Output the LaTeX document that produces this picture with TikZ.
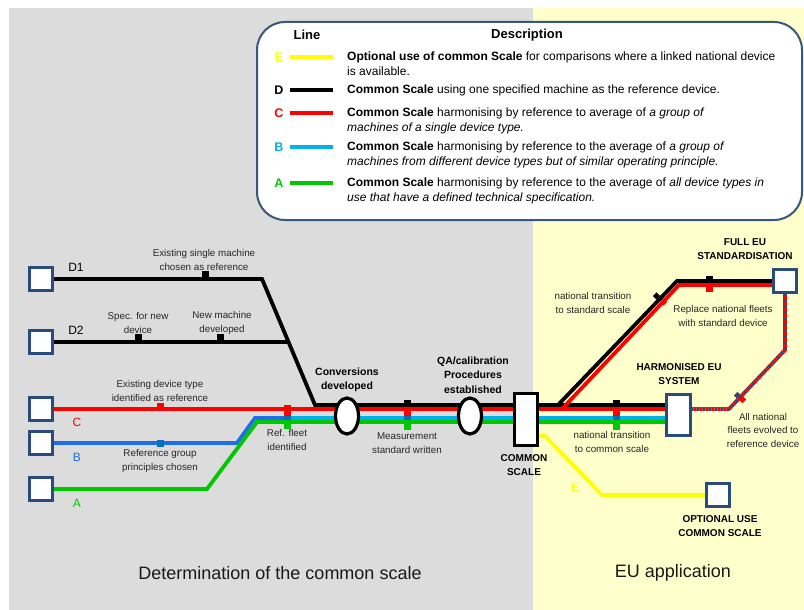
\documentclass[tikz,border=0pt]{standalone}
\usepackage{fontspec}
\setmainfont{Liberation Sans}
\usetikzlibrary{shapes.geometric,calc}
\definecolor{bggray}{RGB}{220,220,220}
\definecolor{bgyellow}{RGB}{255,255,204}
\definecolor{boxblue}{RGB}{41,75,125}
\definecolor{framecol}{RGB}{56,87,125}
\definecolor{lineE}{RGB}{255,255,0}
\definecolor{lineC}{RGB}{255,0,0}
\definecolor{lineB}{RGB}{0,176,240}
\definecolor{lineBl}{RGB}{30,110,235}
\definecolor{tickB}{RGB}{0,112,192}
\definecolor{lineA}{RGB}{0,200,0}
\pgfdeclarelayer{bg}
\pgfdeclarelayer{tracks}
\pgfsetlayers{bg,tracks,main}
\tikzset{
	stn/.style={draw=boxblue, fill=white, line width=3.2pt, minimum size=23pt, inner sep=0pt},
	oval/.style={ellipse, draw, fill=white, line width=3.2pt, minimum width=23pt, minimum height=36pt, inner sep=0pt},
	rail/.style={line width=3.8pt},
	lbl/.style={align=center, font=\fontsize{9.8}{13.5}\selectfont, text=black!85, inner sep=0pt},
	blbl/.style={align=center, font=\bfseries\fontsize{10.5}{14.5}\selectfont, inner sep=0pt},
	caps/.style={align=center, font=\bfseries\fontsize{10}{14.5}\selectfont, inner sep=0pt},
	desc/.style={anchor=west, align=left, font=\fontsize{12}{14.8}\selectfont, inner sep=0pt},
	key/.style={font=\bfseries\fontsize{12.5}{14}\selectfont, inner sep=0pt},
	tag/.style={font=\fontsize{12}{14}\selectfont, inner sep=0pt},
	title/.style={font=\fontsize{18}{20}\selectfont, text=black!90, inner sep=0pt},
	mark tick/.style={diamond, fill=#1, minimum size=7.5pt, inner sep=0pt}
}
\begin{document}
\begin{tikzpicture}[x=1pt,y=-1pt]
	\pgfmathsetmacro\YK{405}
	\pgfmathsetmacro\YR{409}
	\pgfmathsetmacro\YB{418}
	\pgfmathsetmacro\YG{422}
	\useasboundingbox (0,0) rectangle (804,610);
	\begin{pgfonlayer}{bg}
		\fill[bggray] (9,8) rectangle (533,610);
		\fill[bgyellow] (533,8) rectangle (804,610);
	\end{pgfonlayer}
	
	\draw[framecol, line width=2pt, fill=white, rounded corners=28pt] (257,22) rectangle (802,220);
	\node[key, font=\bfseries\fontsize{13}{15}\selectfont] (hdLine) at (307,35) {Line};
	\node[key, font=\bfseries\fontsize{13}{15}\selectfont] (hdDesc) at (527,35) {Description};
	\foreach \ly/\lc/\lt in {57/lineE/E, 90/black/D, 113/lineC/C, 147/lineB/B, 183/lineA/A} {
		\node[key, text=\lc] (key\lt) at (279,\ly) {\lt};
		\draw[line width=3.5pt, \lc] (290,\ly) -- (333,\ly);
	}
	\node[desc] (descE) at (347,64) {\textbf{Optional use of common Scale} for comparisons where a linked national device\\is available.};
	\node[desc] (descD) at (347,90) {\textbf{Common Scale} using one specified machine as the reference device.};
	\node[desc] (descC) at (347,120.5) {\textbf{Common Scale} harmonising by reference to average of \textit{a group of}\\\textit{machines of a single device type.}};
	\node[desc] (descB) at (347,154.5) {\textbf{Common Scale} harmonising by reference to the average of \textit{a group of}\\\textit{machines from different device types but of similar operating principle.}};
	\node[desc] (descA) at (347,191) {\textbf{Common Scale} harmonising by reference to the average of \textit{all device types in}\\\textit{use that have a defined technical specification.}};
	
	\node[stn] (stD1) at (41,279) {};
	\node[stn] (stD2) at (41,342) {};
	\node[stn] (stC) at (41,409) {};
	\node[stn] (stB) at (41,443) {};
	\node[stn] (stA) at (41,489) {};
	\node[oval] (conv) at (347,416) {};
	\node[oval] (qa) at (470,416) {};
	\node[draw, fill=white, line width=3pt, minimum width=23pt, minimum height=52pt, inner sep=0pt] (common) at (526,419.5) {};
	\node[stn, minimum width=24pt, minimum height=41pt] (harm) at (678.5,415) {};
	\node[stn] (fulleu) at (785,281) {};
	\node[stn] (optional) at (718,495) {};
	\coordinate (D1k) at (262,279);
	\coordinate (Jk) at (315,\YK);
	\coordinate (D2k) at ($(D1k)!0.5!(Jk)$);
	
	\begin{pgfonlayer}{tracks}
		\draw[rail] (stD1.east) -- (D1k) -- (Jk) -- (harm.center |- Jk);
		\draw[rail] (stD2.east) -- (D2k);
		\draw[rail, lineC] (stC.east) -- (harm.center |- stC);
		\draw[rail, lineBl] (stB.east) -- (237,443) -- (255,\YB) -- (287,\YB);
		\draw[rail, lineB] (287,\YB) -- (harm.center |- 0,\YB);
		\draw[rail, lineA] (stA.east) -- (207,489) -- (257,\YG) -- (harm.center |- 0,\YG);
		\draw[rail] (558,\YK) -- (677,281) -- (fulleu.center |- 0,281);
		\draw[rail, lineC] (562,\YR) -- (679,285) -- (fulleu.center |- 0,285);
		\draw[rail, lineE] (common.center |- 0,436) -- (545,436) -- (602,495) -- (optional.center);
		\draw[rail, boxblue, dash pattern=on 3pt off 3pt] (harm.center |- 0,409) -- (729,409) -- (785,350) -- (fulleu.center);
		\draw[rail, lineC, dash pattern=on 3pt off 3pt, dash phase=3pt] (harm.center |- 0,409) -- (729,409) -- (785,350) -- (fulleu.center);
		
		\fill[black] (201.5,271) rectangle (208.5,279);
		\foreach \tx in {138,220} {
			\fill[black] (\tx-3.5,334) rectangle (\tx+3.5,342);
		}
		\fill[lineC] (156.5,403) rectangle (163.5,409);
		\fill[tickB] (156.5,439.5) rectangle (163.5,446.5);
		\fill[lineC] (283.5,405) rectangle (290.5,416);
		\fill[tickB] (283.5,416) rectangle (290.5,420);
		\fill[lineA] (283.5,420) rectangle (290.5,429);
		\foreach \tx in {407,616} {
			\fill[black] (\tx-3.5,400) rectangle (\tx+3.5,407);
			\fill[lineC] (\tx-3.5,407) rectangle (\tx+3.5,416);
			\fill[tickB] (\tx-3.5,416) rectangle (\tx+3.5,420);
			\fill[lineA] (\tx-3.5,420) rectangle (\tx+3.5,430);
		}
		\fill[black] (706,276) rectangle (713,283);
		\fill[lineC] (706,283) rectangle (713,292);
	\end{pgfonlayer}
	\node[mark tick=black] (tkK) at (656.5,296) {};
	\node[mark tick=lineC] (tkR) at (663.5,302) {};
	\node[mark tick=boxblue] (tkDB) at (737.5,395.5) {};
	\node[mark tick=lineC] (tkDR) at (742.5,399.5) {};
	
	\node[tag] (tagD1) at (76,267) {D1};
	\node[tag] (tagD2) at (76,330) {D2};
	\node[tag, text=lineC] (tagC) at (77,422) {C};
	\node[tag, text=lineBl] (tagB) at (77,457) {B};
	\node[tag, text=lineA] (tagA) at (77,503) {A};
	\node[tag, text=lineE] (tagE) at (575,487) {E};
	
	\node[lbl] (lbSingle) at (204,260) {Existing single machine\\chosen as reference};
	\node[lbl] (lbSpec) at (138,323) {Spec. for new\\device};
	\node[lbl] (lbNew) at (222,323) {New machine\\developed};
	\node[lbl] (lbType) at (160,391) {Existing device type\\identified as reference};
	\node[lbl] (lbGroup) at (160,461) {Reference group\\principles chosen};
	\node[lbl] (lbFleet) at (287,440) {Ref. fleet\\identified};
	\node[blbl] (lbConv) at (347,380) {Conversions\\developed};
	\node[lbl] (lbMeas) at (407,443) {Measurement\\standard written};
	\node[blbl] (lbQA) at (473,375) {QA/calibration\\Procedures\\established};
	\node[caps] (lbCommon) at (524,465) {COMMON\\SCALE};
	\node[lbl] (lbStd) at (593,303) {national transition\\to standard scale};
	\node[lbl] (lbReplace) at (723,316) {Replace national fleets\\with standard device};
	\node[caps] (lbFull) at (745,249) {FULL EU\\STANDARDISATION};
	\node[caps] (lbHarm) at (679,374) {HARMONISED EU\\SYSTEM};
	\node[lbl] (lbNat) at (612,442) {national transition\\to common scale};
	\node[lbl] (lbAll) at (763,430) {All national\\fleets evolved to\\reference device};
	\node[caps] (lbOpt) at (720,526) {OPTIONAL USE\\COMMON SCALE};
	
	\node[title] (ttDet) at (280,573) {Determination of the common scale};
	\node[title] (ttEU) at (673,573) {EU application};
\end{tikzpicture}
\end{document}
